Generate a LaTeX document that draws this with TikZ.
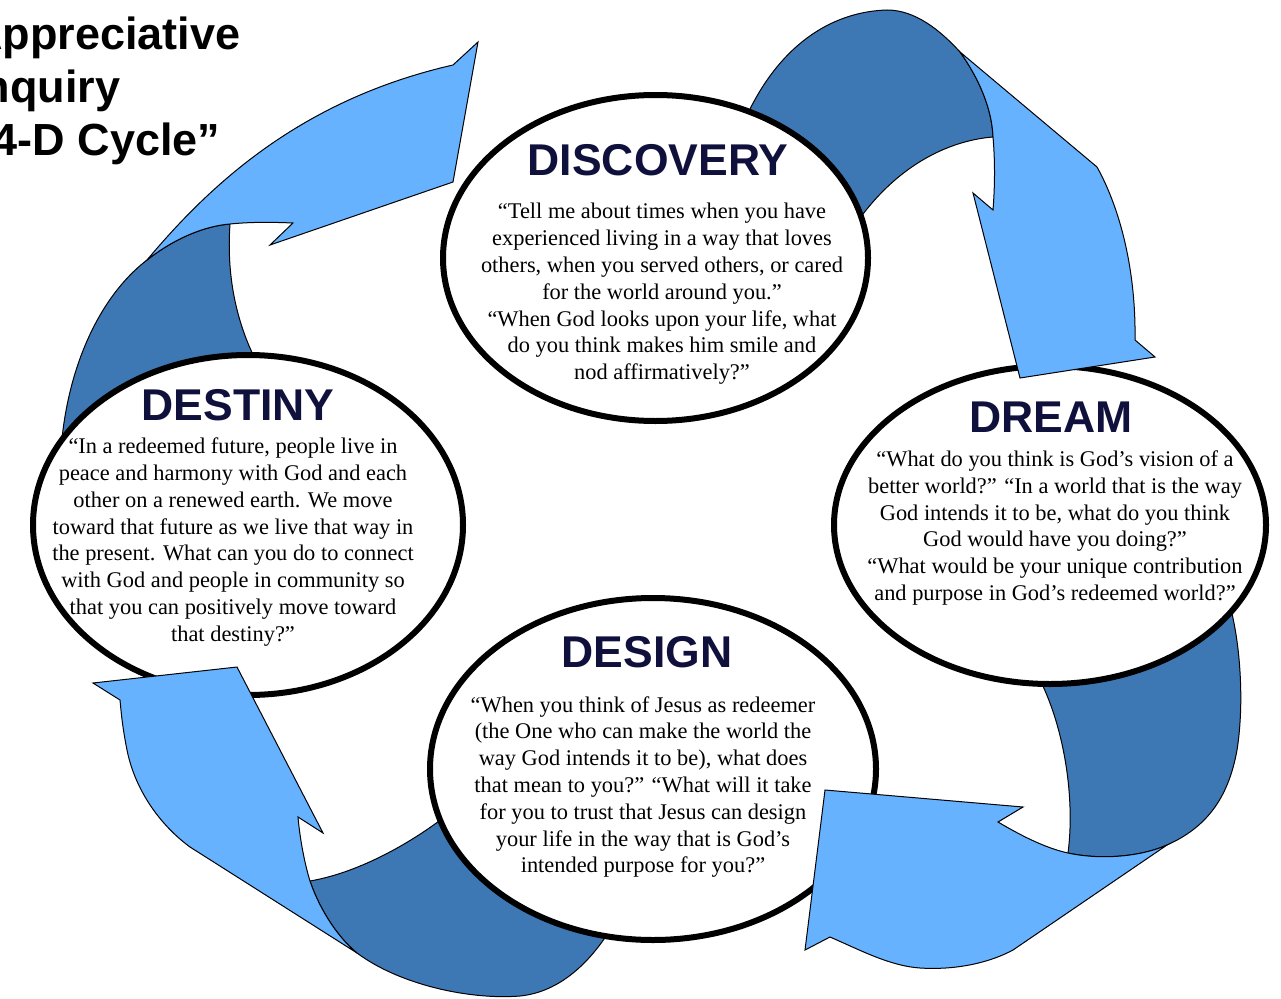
\documentclass[tikz,border=0pt]{standalone}
\usepackage{fontspec}
\setmainfont{Liberation Serif}
\setsansfont{Liberation Sans}
\usetikzlibrary{shapes.geometric}
\definecolor{arrowlight}{RGB}{102,178,255}
\definecolor{arrowdark}{RGB}{62,120,180}
\definecolor{headnavy}{RGB}{16,16,60}
\begin{document}
\begin{tikzpicture}[x=1pt,y=-1pt,
  stage/.style={ellipse, draw=black, line width=6pt, fill=white, inner sep=0pt},
  lightpart/.style={fill=arrowlight, draw=black, line width=1pt, line join=miter},
  darkpart/.style={fill=arrowdark, draw=black, line width=1pt},
  heading/.style={font=\sffamily\bfseries\fontsize{44.5}{50}\selectfont, text=headnavy, inner sep=0pt},
  bodytext/.style={font=\fontsize{22.4}{26.8}\selectfont, align=center, inner sep=0pt},
  titletext/.style={font=\sffamily\bfseries\fontsize{45}{52}\selectfont, inner sep=0pt, anchor=base west}]
\path[use as bounding box] (0,0) rectangle (1281,998);
\clip (0,0) rectangle (1281,998);
\fill[white] (0,0) rectangle (1281,998);

% dark (rear) parts of the four curved arrows
\path[darkpart] (60,470) .. controls (62,380) and (95,300) .. (147,260)
  .. controls (175,238) and (205,226) .. (230,224)
  .. controls (226,280) and (238,330) .. (262,372) -- (249,527) -- cycle;
\path[darkpart] (730,160) .. controls (760,60) and (820,12) .. (887,10)
  .. controls (915,10) and (940,30) .. (960,52)
  .. controls (980,80) and (992,110) .. (993,137)
  .. controls (955,140) and (900,160) .. (855,225) -- (840,250) -- (655,262) -- cycle;
\path[darkpart] (1225,590) .. controls (1240,630) and (1245,700) .. (1237,750)
  .. controls (1228,800) and (1205,828) .. (1167,845)
  .. controls (1140,857) and (1100,860) .. (1068,853)
  .. controls (1075,800) and (1065,730) .. (1040,680) -- (1048,525) -- cycle;
\path[darkpart] (447,815) .. controls (415,840) and (362,872) .. (310,881)
  .. controls (318,905) and (335,935) .. (357,953)
  .. controls (400,985) and (470,1000) .. (520,996)
  .. controls (560,992) and (590,962) .. (610,930) -- (653,769) -- cycle;

% the four stages
\node[stage, minimum width=425pt, minimum height=326pt] (discovery) at (655.5,258) {};
\node[stage, minimum width=430pt, minimum height=340pt] (destiny) at (248,525) {};
\node[stage, minimum width=432pt, minimum height=318pt] (dream) at (1050,525) {};
\node[stage, minimum width=446pt, minimum height=342pt] (design) at (653,769) {};

% light (front) parts with the arrow heads
\path[lightpart] (147,260) .. controls (210,185) and (300,100) .. (453,65)
  -- (478,42) -- (453,182) -- (270,245) -- (293,223)
  .. controls (270,222) and (250,222) .. (230,224)
  .. controls (205,226) and (175,238) .. (147,260) -- cycle;
\path[lightpart] (960,52) -- (1097,167)
  .. controls (1122,212) and (1136,275) .. (1135,340)
  -- (1155,357) -- (1020,378) -- (973,193) -- (993,210)
  .. controls (995,185) and (995,160) .. (993,137)
  .. controls (992,110) and (980,80) .. (960,52) -- cycle;
\path[lightpart] (1167,845) -- (1013,950)
  .. controls (985,965) and (950,970) .. (920,968)
  .. controls (890,966) and (860,950) .. (830,937)
  -- (805,950) -- (825,790) -- (1023,807) -- (998,822)
  .. controls (1020,835) and (1045,848) .. (1068,853)
  .. controls (1100,860) and (1140,857) .. (1167,845) -- cycle;
\path[lightpart] (357,953) -- (190,847)
  .. controls (160,825) and (135,790) .. (127,750)
  .. controls (122,725) and (121,710) .. (120,700)
  -- (93,683) -- (237,667) -- (323,833) -- (298,817)
  .. controls (300,840) and (305,865) .. (310,881)
  .. controls (318,905) and (335,935) .. (357,953) -- cycle;

% title
\node[titletext] (title1) at (-30,50) {Appreciative};
\node[titletext] (title2) at (-30,102.5) {Inquiry};
\node[titletext] (title3) at (-30,155) {“4-D Cycle”};

% headings
\node[heading] (discoveryhead) at (658,160) {DISCOVERY};
\node[heading] (destinyhead) at (238,405) {DESTINY};
\node[heading] (dreamhead) at (1051,417) {DREAM};
\node[heading] (designhead) at (647,652) {DESIGN};

% questions
\node[bodytext] (discoverytext) at (662,294) {“Tell me about times when you have\\
experienced living in a way that loves\\
others, when you served others, or cared\\
for the world around you.”\\
“When God looks upon your life, what\\
do you think makes him smile and\\
nod affirmatively?”};
\node[bodytext] (destinytext) at (233,542) {“In a redeemed future, people live in\\
peace and harmony with God and each\\
other on a renewed earth. We move\\
toward that future as we live that way in\\
the present. What can you do to connect\\
with God and people in community so\\
that you can positively move toward\\
that destiny?”};
\node[bodytext] (dreamtext) at (1055,528) {“What do you think is God’s vision of a\\
better world?” “In a world that is the way\\
God intends it to be, what do you think\\
God would have you doing?”\\
“What would be your unique contribution\\
and purpose in God’s redeemed world?”};
\node[bodytext] (designtext) at (643,787) {“When you think of Jesus as redeemer\\
(the One who can make the world the\\
way God intends it to be), what does\\
that mean to you?” “What will it take\\
for you to trust that Jesus can design\\
your life in the way that is God’s\\
intended purpose for you?”};
\end{tikzpicture}
\end{document}
